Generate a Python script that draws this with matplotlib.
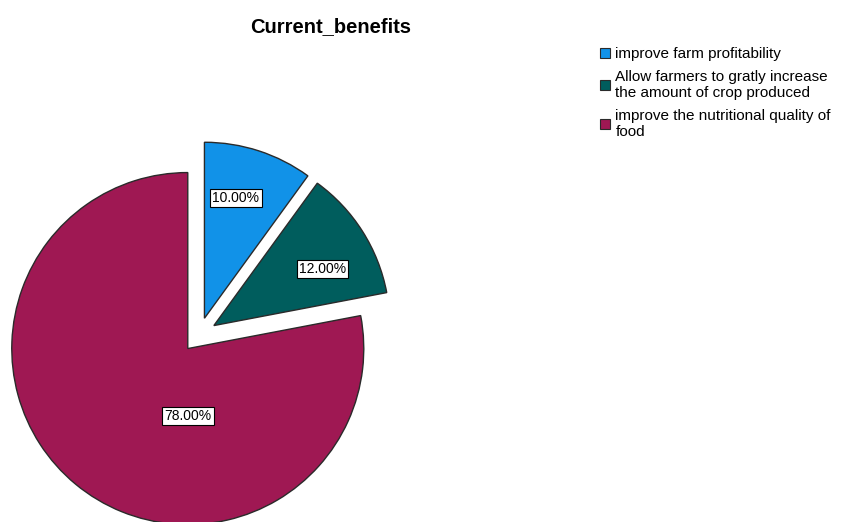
import matplotlib
matplotlib.use("Agg")
import matplotlib.pyplot as plt

plt.rcParams['font.family'] = ['Liberation Sans', 'DejaVu Sans']

# data
categories = ["improve farm profitability",
              "Allow farmers to gratly increase\nthe amount of crop produced",
              "improve the nutritional quality of\nfood"]
shares = [10.0, 12.0, 78.0]
colors = ['#1192e8', '#005d5d', '#9f1853']
explode = [0.1, 0.1, 0.1]

W, H = 852, 522
cx, cy, R = 199, 335, 176   # pie centre / radius in pixels

fig = plt.figure(figsize=(W / 100, H / 100), dpi=100)
ax = fig.add_axes([0, 0, 1, 1])
ax.axis('off')

wedges, texts, autotexts = ax.pie(
    shares, colors=colors, explode=explode, startangle=90, counterclock=False,
    radius=1, autopct='%.2f%%', pctdistance=0.7,
    wedgeprops=dict(edgecolor='#2a2a2a', linewidth=1),
    textprops=dict(fontsize=10, color='black'))
ax.set_xlim(-cx / R, (W - cx) / R)
ax.set_ylim(-(H - cy) / R, cy / R)
ax.set_aspect('auto')

for t in autotexts:
    t.set_bbox(dict(facecolor='white', edgecolor='black', linewidth=0.8, pad=1.5))
# SPSS-like label placement
autotexts[0].set_position((0.21, 0.78))
autotexts[1].set_position((0.70, 0.375))
autotexts[2].set_position((-0.0625, -0.46))

fig.text(331 / W, 1 - 27 / H, "Current_benefits", ha='center', va='center',
         fontsize=14.5, fontweight='bold')

leg = ax.legend(wedges, categories, loc='upper left',
                bbox_to_anchor=(600 / W, 1 - 47 / H), bbox_transform=fig.transFigure,
                frameon=False, fontsize=11, handlelength=0.65, handleheight=0.65,
                handletextpad=0.35, labelspacing=0.6, borderpad=0, borderaxespad=0)
for t in leg.get_texts():
    t.set_linespacing(1.15)
for h in leg.legend_handles:
    h.set_linewidth(0.8)

fig.savefig("out.png", dpi=100)
